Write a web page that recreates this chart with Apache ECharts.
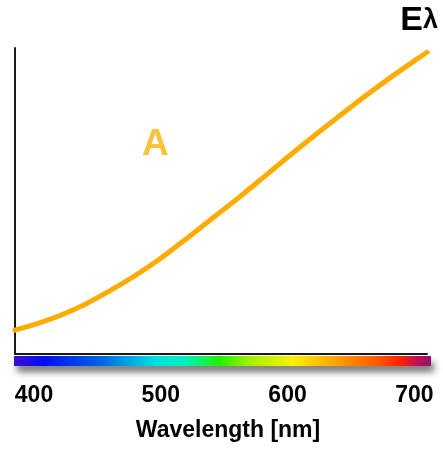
<!DOCTYPE html>
<html>
<head>
<meta charset="utf-8">
<style>
  html, body { margin: 0; padding: 0; background: #ffffff; }
  #chart { width: 443px; height: 450px; }
</style>
<script src="https://cdn.jsdelivr.net/npm/echarts@6/dist/echarts.min.js"></script>
</head>
<body>
<div id="chart"></div>
<script>
// Relative spectral power of CIE illuminant A (arbitrary units, 0 = axis baseline)
const wavelengths = [385, 400, 420, 440, 460, 480, 500, 520, 540, 560, 580, 600, 620, 640, 660, 680, 700, 710];
const powerA      = [7.8, 9.6, 12.5, 16.2, 20.7, 25.7, 31.3, 37.6, 44.1, 50.6, 57.4, 64.3, 71.0, 77.5, 83.9, 90.0, 95.8, 98.6];
const tickValues  = [400, 500, 600, 700];

const fontFamily = '"Liberation Sans", Arial, Helvetica, sans-serif';

const chart = echarts.init(document.getElementById('chart'), null, { renderer: 'canvas' });

const seriesData = wavelengths.map((w, i) => [w, powerA[i]]);

// Visible spectrum strip under the wavelength axis
const spectrumStops = [
  [0.000, '#3a10d2'],
  [0.074, '#0010f2'],
  [0.206, '#0062e4'],
  [0.280, '#00aae6'],
  [0.340, '#00e0e0'],
  [0.410, '#00f0c0'],
  [0.494, '#22f000'],
  [0.566, '#a4f000'],
  [0.667, '#faf000'],
  [0.734, '#ffc000'],
  [0.794, '#ff9000'],
  [0.870, '#ff5a00'],
  [0.926, '#ff2200'],
  [0.962, '#c81050'],
  [1.000, '#901070']
].map(([offset, color]) => ({ offset, color }));

chart.setOption({
  animation: false,
  backgroundColor: '#ffffff',
  grid: { left: 15, right: 16, top: 48, bottom: 96, containLabel: false },
  xAxis: {
    type: 'value',
    min: 385,
    max: 710,
    axisLine: { show: true, lineStyle: { color: '#1a1a1a', width: 2 } },
    axisTick: { show: false },
    splitLine: { show: false },
    axisLabel: {
      customValues: tickValues,
      margin: 30,
      fontSize: 23,
      fontWeight: 'bold',
      color: '#000000',
      fontFamily: fontFamily
    },
    name: 'Wavelength [nm]',
    nameLocation: 'middle',
    nameGap: 65,
    nameTextStyle: {
      fontSize: 23,
      fontWeight: 'bold',
      color: '#000000',
      fontFamily: fontFamily,
      padding: [0, 0, 0, 14]
    }
  },
  yAxis: {
    type: 'value',
    min: 0,
    max: 100,
    axisLine: { show: true, onZero: false, lineStyle: { color: '#1a1a1a', width: 2 } },
    axisTick: { show: false },
    axisLabel: { show: false },
    splitLine: { show: false }
  },
  series: [{
    type: 'line',
    data: seriesData,
    smooth: 0.3,
    symbol: 'none',
    lineStyle: { color: '#ffab00', width: 5, cap: 'round' },
    z: 3
  }],
  graphic: [
    {
      type: 'rect',
      left: 14,
      top: 356,
      shape: { width: 417, height: 10 },
      style: {
        fill: new echarts.graphic.LinearGradient(0, 0, 1, 0, spectrumStops),
        shadowBlur: 7,
        shadowOffsetX: 3,
        shadowOffsetY: 6,
        shadowColor: 'rgba(0,0,0,0.55)'
      },
      z: 10
    },
    {
      type: 'text',
      left: 142,
      top: 126,
      style: {
        text: 'A',
        fill: '#f9c23c',
        font: 'bold 37px ' + fontFamily
      },
      z: 10
    },
    {
      type: 'text',
      right: 5,
      top: 4,
      style: {
        text: '{e|E}{l|λ}',
        rich: {
          e: { fill: '#000000', fontSize: 34, fontWeight: 'bold', fontFamily: fontFamily },
          l: { fill: '#000000', fontSize: 27, fontWeight: 'bold', fontFamily: fontFamily }
        }
      },
      z: 10
    }
  ]
});
</script>
</body>
</html>
